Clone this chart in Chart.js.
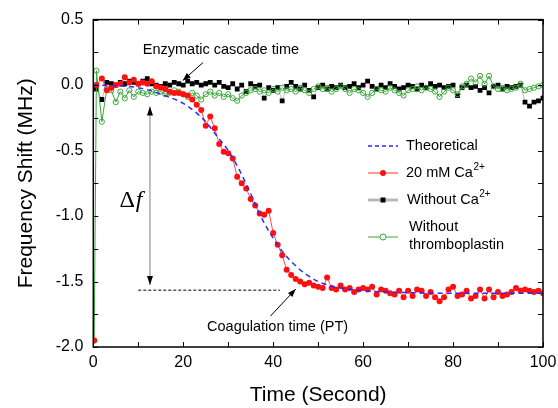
<!DOCTYPE html>
<html>
<head>
<meta charset="utf-8">
<script src="https://cdn.jsdelivr.net/npm/chart.js@4.4.1/dist/chart.umd.min.js"></script>
<style>
  body { margin: 0; background: #fff; }
  #wrap { width: 558px; height: 408px; }
</style>
</head>
<body>
<div id="wrap"><canvas id="chart" width="558" height="408"></canvas></div>
<script>
// sampling times (s) shared by the three measured curves
const time = [0.2, 0.7, 1.9, 3, 4, 5, 6, 7, 8, 9, 10,
  11, 12, 13, 14, 15, 16, 17, 18, 19, 20,
  21, 22, 23, 24, 25, 26, 27, 28, 29, 30,
  31, 32, 33, 34, 35, 36, 37, 38, 39, 40,
  41, 42, 43, 44, 45, 46, 47, 48, 49, 50,
  51, 52, 53, 54, 55, 56, 57, 58, 59, 60,
  61, 62, 63, 64, 65, 66, 67, 68, 69, 70,
  71, 72, 73, 74, 75, 76, 77, 78, 79, 80,
  81, 82, 83, 84, 85, 86, 87, 88, 89, 90,
  91, 92, 93, 94, 95, 96, 97, 98, 99, 100];

// 20 mM Ca2+ (MHz)
const shiftCa = [-1.95, 0.00, 0.05, -0.04, -0.02, 0.00, 0.01, 0.06, 0.02, 0.04, 0.01,
  0.02, 0.01, 0.03, -0.01, -0.02, -0.03, -0.05, -0.06, -0.06, -0.07,
  -0.08, -0.11, -0.15, -0.19, -0.31, -0.24, -0.33, -0.45, -0.51, -0.52,
  -0.56, -0.70, -0.75, -0.79, -0.87, -0.92, -0.98, -0.99, -0.96, -1.13,
  -1.22, -1.30, -1.41, -1.45, -1.48, -1.50, -1.52, -1.51, -1.53, -1.54,
  -1.55, -1.47, -1.55, -1.56, -1.53, -1.56, -1.55, -1.58, -1.56, -1.55,
  -1.56, -1.54, -1.60, -1.56, -1.57, -1.59, -1.60, -1.57, -1.62, -1.57,
  -1.61, -1.56, -1.57, -1.61, -1.58, -1.62, -1.65, -1.62, -1.56, -1.54,
  -1.61, -1.60, -1.57, -1.63, -1.61, -1.56, -1.63, -1.56, -1.62, -1.58,
  -1.61, -1.60, -1.58, -1.55, -1.57, -1.56, -1.57, -1.58, -1.57, -1.59];

// without Ca2+
const shiftNoCa = [-0.02, -0.03, -0.11, 0.02, 0.01, 0.00, 0.02, 0.01, 0.03, 0.02, 0.01,
  0.03, 0.05, 0.01, 0.00, -0.01, 0.01, 0.00, 0.02, 0.01, 0.00,
  0.03, 0.01, 0.02, 0.00, 0.01, 0.02, 0.00, 0.02, -0.01, -0.02,
  0.01, -0.03, 0.00, -0.05, 0.01, -0.01, 0.00, -0.10, -0.02, -0.04,
  -0.02, -0.12, -0.01, 0.02, -0.01, -0.03, 0.00, -0.04, -0.09, -0.02,
  0.00, -0.03, -0.01, -0.02, 0.00, -0.02, -0.01, 0.01, -0.02, 0.00,
  0.03, -0.01, -0.03, 0.00, -0.02, 0.01, -0.01, -0.03, -0.02, 0.00,
  -0.01, -0.03, 0.00, -0.02, 0.01, -0.01, 0.00, -0.02, -0.01, 0.00,
  -0.08, -0.02, 0.00, -0.02, -0.01, -0.04, -0.02, -0.06, -0.01, 0.00,
  -0.03, -0.01, -0.02, -0.01, 0.00, -0.13, -0.16, -0.13, -0.12, -0.10];

// without thromboplastin
const shiftNoThrombo = [-1.95, 0.11, -0.28, -0.03, -0.04, -0.13, -0.05, -0.10, -0.04, -0.09, -0.05,
  -0.06, -0.07, -0.05, -0.06, -0.05, -0.07, -0.06, -0.04, -0.05, -0.07,
  -0.09, -0.06, -0.08, -0.11, -0.07, -0.05, -0.08, -0.06, -0.09, -0.07,
  -0.10, -0.12, -0.08, -0.06, -0.04, -0.03, -0.05, -0.04, -0.06, -0.03,
  -0.05, -0.02, -0.04, -0.03, -0.05, -0.02, -0.04, -0.06, -0.03, -0.01,
  -0.03, -0.02, -0.05, -0.03, -0.01, -0.03, -0.06, -0.03, -0.04, -0.06,
  -0.09, -0.06, -0.03, -0.04, -0.05, -0.02, -0.04, -0.06, -0.08, -0.04,
  -0.03, -0.01, -0.04, -0.02, -0.03, -0.05, -0.09, -0.05, -0.02, -0.04,
  -0.07, -0.01, 0.01, 0.05, 0.02, 0.07, 0.01, 0.07, -0.01, -0.03,
  -0.02, -0.04, -0.03, -0.02, 0.01, -0.04, -0.03, -0.02, -0.01, 0.00];

// theoretical fit
const theoTime = [0, 5, 10, 12.5, 15, 17.5, 20, 22.5, 25, 27.5, 30, 32.5, 35, 37.5, 40,
  42.5, 45, 47.5, 50, 52.5, 55, 57.5, 60, 65, 70, 80, 90, 100];
const theoShift = [0, -0.005, -0.02, -0.04, -0.07, -0.10, -0.14, -0.20, -0.28, -0.39, -0.50, -0.65, -0.83, -1.02, -1.17,
  -1.29, -1.38, -1.45, -1.50, -1.53, -1.55, -1.56, -1.57, -1.58, -1.585, -1.59, -1.59, -1.59];

const FONT = 'Arial, "Liberation Sans", sans-serif';
Chart.defaults.font.family = FONT;
Chart.defaults.color = '#000';

function pts(xs, ys) {
  return xs.map(function (t, i) { return {x: t, y: ys[i]}; });
}

function arrowHead(ctx, x0, y0, x1, y1, len, half) {
  let a = Math.atan2(y1 - y0, x1 - x0);
  ctx.beginPath();
  ctx.moveTo(x1, y1);
  ctx.lineTo(x1 - len * Math.cos(a) + half * Math.sin(a), y1 - len * Math.sin(a) - half * Math.cos(a));
  ctx.lineTo(x1 - len * Math.cos(a) - half * Math.sin(a), y1 - len * Math.sin(a) + half * Math.cos(a));
  ctx.closePath();
  ctx.fill();
}

function line(ctx, x0, y0, x1, y1) {
  ctx.beginPath();
  ctx.moveTo(x0, y0);
  ctx.lineTo(x1, y1);
  ctx.stroke();
}

function supText(ctx, str, sup, x, y) {
  ctx.font = '14.5px ' + FONT;
  ctx.fillText(str, x, y);
  let w = ctx.measureText(str).width;
  ctx.font = '10px ' + FONT;
  ctx.fillText(sup, x + w + 0.5, y - 6);
}

// box, inward ticks on all four sides
const frame = {
  id: 'frame',
  afterDatasetsDraw(chart) {
    const ctx = chart.ctx, a = chart.chartArea;
    const x = chart.scales.x, y = chart.scales.y;
    ctx.save();
    ctx.strokeStyle = '#000';
    ctx.lineWidth = 1;
    for (let v = 0; v <= 100; v += 10) {
      let px = Math.round(x.getPixelForValue(v)) + 0.5;
      line(ctx, px, a.bottom, px, a.bottom - 5);
      line(ctx, px, a.top, px, a.top + 5);
    }
    for (let v = -2; v <= 0.5; v += 0.25) {
      let py = Math.round(y.getPixelForValue(v)) + 0.5;
      line(ctx, a.left, py, a.left + 5, py);
      line(ctx, a.right, py, a.right - 5, py);
    }
    ctx.lineWidth = 1.5;
    ctx.strokeRect(a.left, a.top, a.right - a.left, a.bottom - a.top);
    ctx.restore();
  }
};

// texts and arrows inside the plot
const notes = {
  id: 'notes',
  afterDraw(chart) {
    const ctx = chart.ctx;
    const x = chart.scales.x, y = chart.scales.y;
    const X = function (v) { return x.getPixelForValue(v); };
    const Y = function (v) { return y.getPixelForValue(v); };
    ctx.save();
    ctx.fillStyle = '#000';
    ctx.strokeStyle = '#000';
    ctx.lineWidth = 1;
    ctx.textBaseline = 'middle';
    ctx.textAlign = 'left';
    ctx.font = '14.5px ' + FONT;
    ctx.fillText('Enzymatic cascade time', X(11.0), Y(0.271));
    line(ctx, X(24.4), Y(0.172), X(19.9), Y(0.035));
    arrowHead(ctx, X(24.4), Y(0.172), X(19.9), Y(0.035), 8, 3);

    ctx.fillText('Coagulation time (PT)', X(25.3), Y(-1.845));
    line(ctx, X(39.4), Y(-1.764), X(45.0), Y(-1.558));
    arrowHead(ctx, X(39.4), Y(-1.764), X(45.0), Y(-1.558), 8, 3);

    // delta f arrow
    ctx.strokeStyle = '#808080';
    line(ctx, X(12.6), Y(-0.163), X(12.6), Y(-1.527));
    arrowHead(ctx, X(12.6), Y(-1.0), X(12.6), Y(-0.163), 9, 3);
    arrowHead(ctx, X(12.6), Y(-1.0), X(12.6), Y(-1.527), 9, 3);
    ctx.strokeStyle = '#000';
    ctx.setLineDash([3, 2]);
    line(ctx, X(10.0), Y(-1.566), X(41.5), Y(-1.566));
    ctx.setLineDash([]);

    ctx.font = '24px "Liberation Serif", "Times New Roman", serif';
    ctx.fillText('\u0394', X(5.8), Y(-0.88));
    let w = ctx.measureText('\u0394').width;
    ctx.font = 'italic 24px "Liberation Serif", "Times New Roman", serif';
    ctx.fillText('f', X(5.8) + w + 1, Y(-0.88));
    ctx.restore();
  }
};

// legend drawn inside the plot, right side
const legendBox = {
  id: 'legendBox',
  afterDraw(chart) {
    const ctx = chart.ctx;
    const x0 = 368, x1 = 398, mx = 383, tx = 406;
    ctx.save();
    ctx.textBaseline = 'middle';
    ctx.fillStyle = '#000';

    ctx.strokeStyle = '#2a2aff';
    ctx.lineWidth = 1.5;
    ctx.setLineDash([4, 3]);
    line(ctx, x0, 146, x1, 146);
    ctx.setLineDash([]);
    ctx.font = '14.5px ' + FONT;
    ctx.fillText('Theoretical', tx, 146);

    ctx.strokeStyle = '#ff3030';
    ctx.lineWidth = 1;
    line(ctx, x0, 173, x1, 173);
    ctx.fillStyle = '#ff1010';
    ctx.beginPath();
    ctx.arc(mx, 173, 3, 0, Math.PI * 2);
    ctx.fill();
    ctx.fillStyle = '#000';
    supText(ctx, '20 mM Ca', '2+', tx, 173);

    ctx.strokeStyle = '#b8b8b8';
    ctx.lineWidth = 3;
    line(ctx, x0, 200, x1, 200);
    ctx.fillRect(mx - 2.5, 197.5, 5, 5);
    supText(ctx, 'Without Ca', '2+', tx + 1, 200);

    ctx.strokeStyle = '#3aa83a';
    ctx.lineWidth = 1;
    line(ctx, x0, 237, x1, 237);
    ctx.fillStyle = '#fff';
    ctx.beginPath();
    ctx.arc(mx, 237, 3, 0, Math.PI * 2);
    ctx.fill();
    ctx.stroke();
    ctx.fillStyle = '#000';
    ctx.font = '14.5px ' + FONT;
    ctx.fillText('Without', tx + 3, 227);
    ctx.fillText('thromboplastin', tx + 3, 245);
    ctx.restore();
  }
};

new Chart(document.getElementById('chart'), {
  type: 'scatter',
  data: {
    datasets: [
      {
        label: 'Theoretical',
        data: pts(theoTime, theoShift),
        showLine: true,
        borderColor: '#2a2aff',
        borderWidth: 1.5,
        borderDash: [5, 4],
        pointRadius: 0,
        cubicInterpolationMode: 'monotone',
        order: 0
      },
      {
        label: '20 mM Ca2+',
        data: pts(time, shiftCa),
        showLine: true,
        borderColor: '#ff4a4a',
        borderWidth: 1,
        // the jump from the start value is hidden under the green trace
        segment: {borderColor: function (c) { return c.p0DataIndex === 0 ? 'rgba(0,0,0,0)' : undefined; }},
        pointRadius: 3,
        pointBorderWidth: 0,
        pointBackgroundColor: '#ff1010',
        order: 1
      },
      {
        label: 'Without thromboplastin',
        data: pts(time, shiftNoThrombo),
        showLine: true,
        borderColor: '#3aa83a',
        borderWidth: 1,
        pointRadius: 2.6,
        pointBorderWidth: 1,
        pointBorderColor: '#3aa83a',
        pointBackgroundColor: 'rgba(255,255,255,0)',
        order: 2
      },
      {
        label: 'Without Ca2+',
        data: pts(time, shiftNoCa),
        showLine: true,
        borderColor: '#a0a0a0',
        borderWidth: 0.7,
        pointStyle: 'rect',
        pointRadius: 3.4,
        pointBorderWidth: 0,
        pointBackgroundColor: '#000',
        order: 3
      }
    ]
  },
  options: {
    responsive: false,
    animation: false,
    devicePixelRatio: 1,
    layout: {padding: {left: 10, right: 15, top: 19, bottom: 0}},
    plugins: {legend: {display: false}, tooltip: {enabled: false}},
    scales: {
      x: {
        type: 'linear',
        min: 0,
        max: 100,
        grid: {display: false, drawTicks: false},
        border: {display: false},
        ticks: {stepSize: 20, padding: 6, font: {size: 16}, maxRotation: 0},
        title: {display: true, text: 'Time (Second)', font: {size: 21}, padding: {top: 4, bottom: 0}},
        afterFit(scale) {
          scale.height = 61;
          scale.paddingLeft = 0;
          scale.paddingRight = 0;
        }
      },
      y: {
        min: -2,
        max: 0.5,
        grid: {display: false, drawTicks: false},
        border: {display: false},
        ticks: {stepSize: 0.5, padding: 10, font: {size: 16},
          callback: function (v) { return v.toFixed(1); }},
        title: {display: true, text: 'Frequency Shift (MHz)', font: {size: 21}, padding: {top: 4, bottom: 4}},
        afterFit(scale) { scale.width = 83.3; }
      }
    }
  },
  plugins: [frame, notes, legendBox]
});
</script>
</body>
</html>
